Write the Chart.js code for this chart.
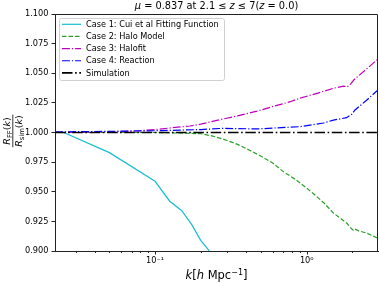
<!DOCTYPE html>
<html><head><meta charset="utf-8">
<script src="https://cdn.jsdelivr.net/npm/chart.js@4"></script>
<style>html,body{margin:0;padding:0;background:#fff;} #wrap{width:379px;height:283px;}</style>
</head><body><div id="wrap"><canvas id="c" width="379" height="283"></canvas></div>
<script>
// ---- data ----
const kCase1 = [0.025, 0.05, 0.1, 0.125, 0.15, 0.175, 0.2, 0.225, 0.25];
const rCase1 = [1.0, 0.983, 0.9588, 0.942, 0.934, 0.922, 0.909, 0.901, 0.89];

const kCase2 = [0.0219, 0.05, 0.1, 0.15, 0.2, 0.24, 0.28, 0.35, 0.42, 0.5, 0.6, 0.7, 0.84, 1.0, 1.1, 1.3, 1.5, 1.84, 1.98, 2.03, 2.08, 2.2, 2.5, 2.95];
const rCase2 = [1.0, 1.0, 1.0, 0.9995, 0.999, 0.997, 0.9945, 0.990, 0.985, 0.980, 0.974, 0.967, 0.9605, 0.953, 0.9487, 0.9405, 0.932, 0.9234, 0.9185, 0.9175, 0.9185, 0.917, 0.915, 0.9107];

const kCase3 = [0.0219, 0.05, 0.08, 0.1, 0.13, 0.17, 0.2, 0.26, 0.35, 0.47, 0.6, 0.78, 0.9, 1.2, 1.5, 1.75, 1.85, 1.95, 2.05, 2.5, 2.95];
const rCase3 = [1.0, 1.0005, 1.0015, 1.0025, 1.004, 1.0055, 1.007, 1.0105, 1.014, 1.018, 1.022, 1.026, 1.0289, 1.0335, 1.0373, 1.0392, 1.0385, 1.041, 1.0445, 1.054, 1.062];

const kCase4 = [0.0219, 0.05, 0.1, 0.146, 0.2, 0.28, 0.47, 0.78, 0.9, 1.29, 1.5, 1.83, 1.98, 2.08, 2.49, 2.95];
const rCase4 = [1.0005, 1.001, 1.0015, 1.002, 1.0025, 1.0035, 1.003, 1.0045, 1.0049, 1.008, 1.0105, 1.0125, 1.0154, 1.019, 1.0274, 1.036];

const kSim = [0.0219, 2.95];
const rSim = [1.0, 1.0];

const seriesLabels = ['Case 1: Cui et al Fitting Function', 'Case 2: Halo Model', 'Case 3: Halofit', 'Case 4: Reaction', 'Simulation'];
const yTickValues = [0.9, 0.925, 0.95, 0.975, 1.0, 1.025, 1.05, 1.075, 1.1];
const xMajorTicks = [0.1, 1];
const xMinorTicks = [0.03, 0.04, 0.05, 0.06, 0.07, 0.08, 0.09, 0.2, 0.3, 0.4, 0.5, 0.6, 0.7, 0.8, 0.9, 2];
const xMajorLabels = {'0.1': '10\u207B\u00B9', '1': '10\u2070'};
const xRange = [0.0219, 2.95];
const yRange = [0.9, 1.1];

// ---- chart ----
const FONT = "'DejaVu Sans'";
Chart.defaults.font.family = FONT;
Chart.defaults.font.size = 8.2;
Chart.defaults.color = '#000';

function pts(ks, rs) { return ks.map((k, i) => ({x: k, y: rs[i]})); }

function drawRuns(ctx, runs, x, y, align) {
  let w = 0;
  runs.forEach(r => { ctx.font = r.f; r.w = ctx.measureText(r.t).width; w += r.w; });
  let cx = align === 'center' ? x - w / 2 : x;
  runs.forEach(r => { ctx.font = r.f; ctx.fillText(r.t, cx, y + (r.dy || 0)); cx += r.w; });
  return w;
}

const decor = {
  id: 'decor',
  afterDraw(chart) {
    const ctx = chart.ctx, a = chart.chartArea;
    ctx.save();
    // top & right spines
    ctx.strokeStyle = '#222'; ctx.lineWidth = 1;
    ctx.beginPath();
    const t = Math.floor(a.top) + 0.5, r = Math.floor(a.right) - 0.5;
    ctx.moveTo(a.left, t); ctx.lineTo(r, t); ctx.lineTo(r, a.bottom);
    ctx.stroke();
    // x tick marks (major long, minor short)
    const xs = chart.scales.x;
    ctx.beginPath();
    xs.ticks.forEach(tk => {
      const px = Math.round(xs.getPixelForValue(tk.value)) + 0.5;
      const len = tk.major ? 3.5 : 2;
      ctx.moveTo(px, a.bottom); ctx.lineTo(px, a.bottom + len);
    });
    ctx.strokeStyle = '#222'; ctx.lineWidth = 1; ctx.stroke();

    ctx.fillStyle = '#000';
    ctx.textBaseline = 'alphabetic';
    // title
    const nf = '9.8px ' + FONT, itf = 'italic 9.8px ' + FONT;
    drawRuns(ctx, [
      {t: '\u03BC', f: itf}, {t: ' = 0.837 at 2.1 \u2264 ', f: nf}, {t: 'z', f: itf},
      {t: ' \u2264 7(', f: nf}, {t: 'z', f: itf}, {t: ' = 0.0)', f: nf}
    ], (a.left + a.right) / 2, 9, 'center');
    // x label
    const lf = '11.5px ' + FONT, lit = 'italic 11.5px ' + FONT;
    drawRuns(ctx, [
      {t: 'k', f: lit}, {t: '[', f: lf}, {t: 'h', f: lit}, {t: ' Mpc', f: lf},
      {t: '\u22121', f: '8px ' + FONT, dy: -4.5}, {t: ']', f: lf}
    ], (a.left + a.right) / 2, 279, 'center');
    // y label (fraction)
    ctx.save();
    ctx.translate(0, 131);
    ctx.rotate(-Math.PI / 2);
    const ff = '9.5px ' + FONT, fi = 'italic 9.5px ' + FONT, fs = '6.8px ' + FONT;
    const num = [{t: 'R', f: fi}, {t: 'FF', f: fs, dy: 2}, {t: '(', f: ff}, {t: 'k', f: fi}, {t: ')', f: ff}];
    const den = [{t: 'R', f: fi}, {t: 'sim', f: fs, dy: 2}, {t: '(', f: ff}, {t: 'k', f: fi}, {t: ')', f: ff}];
    drawRuns(ctx, num, 0, 10, 'center');
    const dw = drawRuns(ctx, den, 0, 21.5, 'center');
    ctx.beginPath(); ctx.moveTo(-dw / 2 - 0.5, 12.8); ctx.lineTo(dw / 2 + 0.5, 12.8);
    ctx.lineWidth = 0.8; ctx.strokeStyle = '#000'; ctx.stroke();
    ctx.restore();

    // legend
    const bx = 59.5, by = 18.5, bw = 165, bh = 62;
    ctx.beginPath();
    ctx.roundRect(bx, by, bw, bh, 2);
    ctx.fillStyle = 'rgba(255,255,255,0.8)'; ctx.fill();
    ctx.strokeStyle = '#d0d0d0'; ctx.lineWidth = 1; ctx.stroke();
    chart.data.datasets.forEach((ds, i) => {
      const yy = 24.3 + i * 12.15;
      ctx.beginPath();
      ctx.setLineDash(ds.borderDash || []);
      ctx.strokeStyle = ds.borderColor; ctx.lineWidth = ds.borderWidth;
      ctx.moveTo(62, yy); ctx.lineTo(81, yy); ctx.stroke();
      ctx.setLineDash([]);
      ctx.fillStyle = '#000'; ctx.font = '8.2px ' + FONT; ctx.textBaseline = 'middle';
      ctx.fillText(ds.label, 86, yy + 0.5);
    });
    ctx.restore();
  }
};

new Chart(document.getElementById('c').getContext('2d'), {
  type: 'line',
  data: {
    datasets: [
      {label: seriesLabels[0], data: pts(kCase1, rCase1), borderColor: '#17becf', borderWidth: 1.2, order: 5},
      {label: seriesLabels[1], data: pts(kCase2, rCase2), borderColor: '#2ca02c', borderWidth: 1.2, borderDash: [4.5, 2], order: 4},
      {label: seriesLabels[2], data: pts(kCase3, rCase3), borderColor: '#bf00bf', borderWidth: 1.2, borderDash: [7.9, 2, 1.2, 2], order: 3},
      {label: seriesLabels[3], data: pts(kCase4, rCase4), borderColor: '#0000ff', borderWidth: 1.2, borderDash: [7.9, 2, 1.2, 2], order: 2},
      {label: seriesLabels[4], data: pts(kSim, rSim), borderColor: '#000000', borderWidth: 1.7, borderDash: [10.5, 2.6, 1.6, 2.6], order: 1}
    ]
  },
  options: {
    responsive: false, animation: false, devicePixelRatio: 1,
    elements: {point: {radius: 0}, line: {tension: 0, fill: false}},
    layout: {padding: {top: 14, right: 1, left: 0, bottom: 0}},
    plugins: {legend: {display: false}, title: {display: false}, tooltip: {enabled: false}},
    scales: {
      x: {
        type: 'logarithmic', min: xRange[0], max: xRange[1],
        afterBuildTicks: s => {
          s.ticks = [...xMinorTicks, ...xMajorTicks].sort((p, q) => p - q)
            .map(v => ({value: v, major: xMajorTicks.includes(v)}));
        },
        afterFit: s => { s.height = 32; },
        grid: {display: true, drawOnChartArea: false, drawTicks: false},
        border: {display: true, color: '#222', width: 1},
        ticks: {autoSkip: false, maxRotation: 0, padding: 5, font: {size: 8.2},
          callback: v => xMajorLabels[String(v)] || ''}
      },
      y: {
        min: yRange[0], max: yRange[1],
        afterBuildTicks: s => { s.ticks = yTickValues.map(v => ({value: v})); },
        afterFit: s => { s.width = 55; },
        grid: {display: true, drawOnChartArea: false, drawTicks: true, tickLength: 3.5, tickColor: '#222'},
        border: {display: true, color: '#222', width: 1},
        ticks: {padding: 3, font: {size: 8.2}, callback: v => Number(v).toFixed(3)}
      }
    }
  },
  plugins: [decor]
});
</script>
</body></html>
